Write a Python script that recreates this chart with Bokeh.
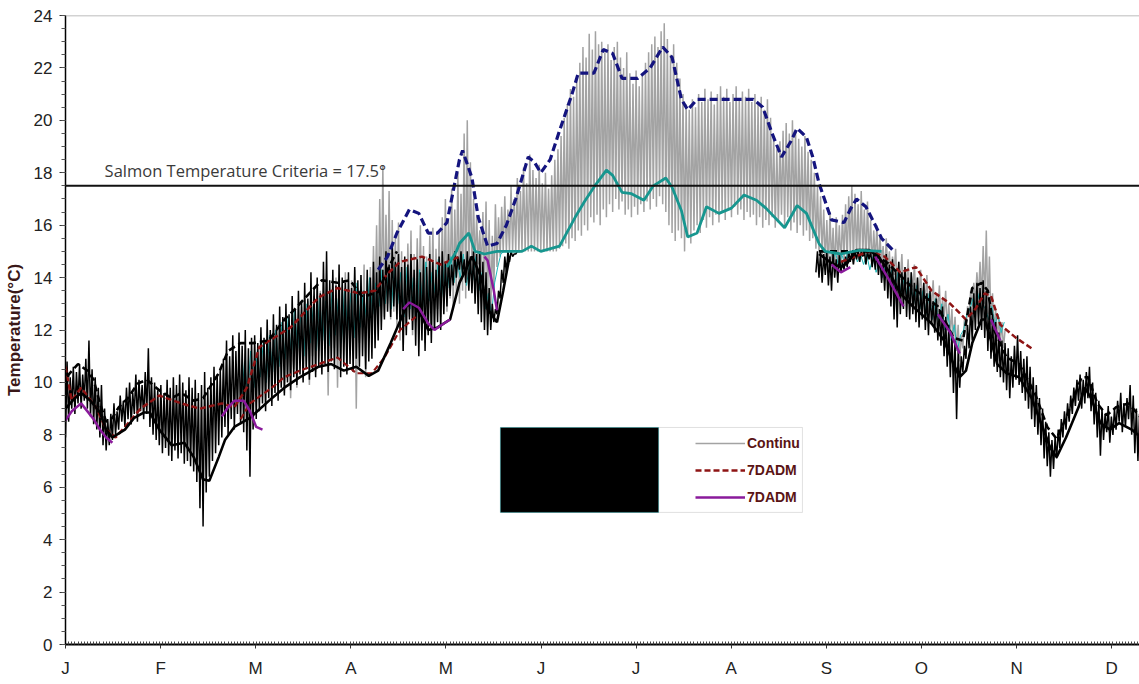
import numpy as np
from bokeh.plotting import figure
from bokeh.models import (Range1d, FixedTicker, SingleIntervalTicker, CustomJSTickFormatter,
                          Span, Label, BoxAnnotation, Legend, LegendItem)
from bokeh.embed import file_html
from bokeh.resources import INLINE

# ---------------- data ----------------
MONTHS = ["J", "F", "M", "A", "M", "J", "J", "A", "S", "O", "N", "D"]
MONTH_LEN = 365 / 12
CRITERIA = 17.5
CRITERIA_TEXT = "Salmon Temperature Criteria = 17.5\u00b0"
Y_TITLE = "Temperature(\u00b0C)"
LEGEND_LABELS = ["Continu", "7DADM", "7DADM"]

# continuous (grey) hourly record: daily highs / lows, first day = GREY_START
GREY_START = 70
GREY_HI = [11.8, 12.3, 11.5, 12.6, 12.0, 12.9, 12.2, 13.1, 12.4, 13.3,
           12.7, 13.5, 12.9, 13.8, 13.0, 13.4, 14.0, 13.2, 13.7, 14.2,
           13.5, 13.9, 14.3, 13.6, 14.1, 14.5, 13.9, 14.4, 15.2, 16.0,
           17.0, 18.3, 16.4, 17.3, 16.2, 15.6, 16.1, 15.0, 14.6, 15.3,
           15.8, 14.9, 15.5, 16.0, 15.2, 14.8, 15.6, 15.9, 15.1, 15.7,
           16.3, 17.0, 16.2, 17.4, 16.6, 18.0, 17.2, 19.5, 20.0, 18.4,
           17.0, 16.4, 15.8, 16.5, 16.9, 16.2, 15.6, 16.8, 16.3, 16.7,
           17.1, 16.6, 17.5, 17.0, 17.8, 17.3, 18.2, 17.6, 18.7, 18.1,
           17.8, 18.3, 17.6, 18.0, 17.4, 17.9, 18.5, 18.9, 19.4, 20.1,
           20.6, 21.2, 20.9, 21.7, 22.2, 22.8, 22.4, 23.3, 22.7, 23.4,
           22.9, 23.0, 22.6, 22.9, 22.3, 22.8, 23.0, 22.4, 22.0, 22.6,
           21.8, 21.4, 21.9, 21.3, 21.7, 22.2, 22.6, 22.9, 23.2, 22.8,
           23.4, 23.7, 23.1, 22.5, 22.9, 22.2, 21.6, 21.0, 20.6, 20.4,
           20.8, 20.5, 21.0, 20.7, 21.2, 20.8, 21.1, 20.6, 21.0, 21.3,
           20.9, 21.2, 20.7, 21.0, 21.3, 20.8, 21.1, 20.9, 21.2, 20.7,
           21.0, 20.6, 20.9, 20.4, 20.8, 20.1, 19.4, 18.9, 19.2, 19.6,
           19.9, 19.5, 20.0, 19.6, 19.3, 19.0, 19.4, 18.8, 18.5, 18.0,
           17.5, 17.1, 16.6, 16.2, 16.5, 15.9, 16.3, 16.0, 16.4, 16.8,
           17.1, 17.5, 17.2, 16.8, 17.3, 16.6, 16.9, 16.2, 15.8, 16.0,
           15.6, 15.2, 15.5, 15.0, 14.8, 15.1, 14.6, 14.9, 14.4, 14.7,
           14.2, 14.5, 14.0, 14.3, 13.8, 14.1, 13.6, 13.9, 13.4, 13.7,
           13.2, 13.5, 13.0, 12.8, 12.5, 12.2, 11.8, 12.4, 12.9, 13.5,
           13.8, 14.2, 14.6, 15.2, 15.8, 14.8, 13.4, 12.8, 12.5, 12.3,
           12.0]
GREY_LO = [9.6, 10.2, 9.4, 10.5, 9.8, 10.8, 10.1, 10.6, 9.9, 11.0,
           10.4, 11.2, 10.7, 11.4, 9.5, 10.9, 11.3, 9.8, 11.1, 11.6,
           10.5, 11.2, 11.8, 9.0, 11.5, 12.0, 10.2, 11.7, 12.3, 12.6,
           12.2, 12.8, 12.5, 13.0, 12.4, 12.7, 12.1, 11.6, 11.2, 12.0,
           12.5, 11.8, 12.3, 12.7, 12.0, 11.5, 12.2, 12.6, 12.1, 12.8,
           12.5, 13.0, 12.7, 13.2, 12.9, 13.4, 13.0, 13.5, 13.2, 13.8,
           14.0, 14.3, 14.5, 14.2, 13.6, 13.0, 12.6, 13.5, 14.4, 14.8,
           15.0, 15.0, 15.0, 15.0, 15.0, 15.0, 15.0, 15.0, 15.0, 15.0,
           15.0, 15.0, 15.0, 15.0, 15.0, 15.0, 15.0, 15.0, 15.1, 15.2,
           15.3, 15.1, 15.5, 15.4, 15.8, 15.6, 16.0, 15.8, 16.3, 16.1,
           16.4, 16.0, 16.6, 16.3, 16.8, 16.5, 17.0, 16.6, 16.9, 16.4,
           16.6, 16.3, 16.7, 16.4, 16.8, 16.5, 16.9, 16.6, 17.0, 16.7,
           17.1, 16.8, 16.5, 16.0, 15.7, 15.4, 15.8, 15.5, 15.0, 15.6,
           15.3, 15.8, 16.0, 15.7, 16.2, 15.9, 16.3, 16.0, 16.4, 16.1,
           16.5, 16.2, 16.6, 16.3, 16.7, 16.4, 16.6, 16.2, 16.5, 16.3,
           16.4, 16.0, 16.3, 15.9, 16.2, 16.0, 16.3, 15.9, 16.1, 16.4,
           16.0, 16.3, 15.8, 16.1, 15.7, 16.0, 15.6, 15.8, 15.4, 15.5,
           15.1, 15.0, 14.8, 14.6, 14.3, 14.5, 14.2, 14.6, 14.4, 14.7,
           14.6, 14.9, 14.5, 14.8, 14.6, 14.9, 14.5, 14.7, 14.4, 14.6,
           14.3, 14.5, 14.1, 14.3, 13.9, 14.1, 13.7, 13.9, 13.5, 13.7,
           13.3, 13.5, 13.1, 13.3, 12.9, 13.1, 12.7, 12.9, 12.5, 12.7,
           12.3, 12.5, 12.0, 11.8, 11.5, 11.2, 10.8, 11.3, 12.0, 12.6,
           12.9, 13.0, 13.2, 13.1, 13.0, 12.6, 12.2, 11.9, 11.6, 11.5,
           11.3]

# second station continuous record (black): daily highs / lows
BLACK1_START = 0
BLACK1_HI = [10.8, 10.2, 10.6, 10.4, 10.7, 10.3, 10.9, 11.6, 10.5, 10.2,
             9.8, 9.9, 9.0, 8.6, 8.8, 9.2, 8.9, 9.5, 9.3, 9.8,
             10.0, 9.6, 10.3, 10.1, 9.9, 10.4, 11.3, 10.2, 10.0, 9.7,
             9.9, 9.6, 10.1, 9.8, 10.2, 9.9, 10.3, 10.0, 9.7, 10.2,
             9.8, 10.1, 9.6, 9.9, 10.4, 9.8, 10.2, 10.6, 10.3, 10.5,
             10.9, 11.6, 11.0, 11.8, 11.2, 11.9, 11.4, 12.0, 11.3, 11.7,
             11.8, 11.5, 12.1, 11.7, 12.4, 12.0, 12.6, 12.2, 12.9, 12.5,
             13.0, 12.6, 13.3, 12.8, 13.5, 13.1, 13.8, 13.2, 14.2, 13.6,
             14.0, 13.4, 14.6, 15.0, 13.9, 14.3, 13.7, 14.5, 14.0, 13.8,
             14.2, 13.6, 14.4, 13.9, 14.1, 13.5, 14.3, 14.0, 14.6, 14.2,
             14.8, 14.3, 15.0, 14.5, 15.2, 14.6, 14.9, 14.4, 14.8, 14.5,
             14.9, 14.3, 14.7, 14.2, 14.8, 14.4, 14.9, 14.6, 14.3, 14.8,
             15.0, 14.6, 14.9, 14.5, 15.0, 14.8, 15.0, 14.7, 15.0, 14.8,
             15.0, 14.9, 15.0, 14.6, 14.2, 13.6, 13.0, 12.8, 13.5, 14.3,
             14.8, 15.0, 15.0, 14.9, 15.0, 15.0]
BLACK1_LO = [7.9, 8.5, 9.0, 8.8, 9.2, 9.0, 9.3, 9.0, 8.7, 8.4,
             8.2, 7.9, 7.6, 7.4, 7.6, 7.8, 8.0, 8.2, 8.5, 8.3,
             8.6, 8.4, 8.8, 8.5, 8.9, 8.6, 8.8, 8.3, 8.0, 7.8,
             7.6, 7.3, 7.5, 7.2, 7.0, 7.4, 7.1, 7.3, 6.9, 7.0,
             6.8, 6.6, 6.2, 5.2, 4.5, 5.8, 6.4, 7.0, 7.3, 7.6,
             7.9, 8.3, 8.0, 8.6, 8.2, 8.8, 8.4, 8.1, 7.4, 6.4,
             8.2, 8.6, 8.9, 9.2, 8.9, 9.4, 9.1, 9.6, 9.3, 9.8,
             9.5, 10.0, 9.7, 10.2, 9.9, 10.3, 10.0, 10.5, 10.1, 10.4,
             10.2, 10.6, 10.3, 10.7, 10.4, 10.8, 10.5, 10.9, 10.2, 10.6,
             10.3, 10.7, 10.4, 10.9, 10.6, 11.0, 10.5, 10.8, 10.9, 11.3,
             11.6, 12.0, 12.4, 12.7, 12.5, 12.9, 12.4, 12.0, 11.2, 11.8,
             12.4, 12.0, 11.4, 11.0, 11.6, 11.2, 11.8, 11.5, 12.0, 12.3,
             12.0, 12.6, 12.9, 13.3, 13.7, 14.0, 14.3, 14.1, 13.8, 13.5,
             13.4, 13.0, 12.6, 12.3, 12.0, 11.8, 12.0, 12.3, 12.6, 13.2,
             13.8, 14.2, 14.6, 14.8, 14.9, 15.0]
BLACK2_START = 240
BLACK2_HI = [15.0, 15.0, 14.9, 15.0, 14.8, 15.0, 14.7, 14.9, 14.6, 14.8,
             15.0, 15.0, 15.0, 15.0, 15.0, 15.0, 15.0, 15.0, 14.9, 15.0,
             14.8, 14.6, 14.9, 14.5, 14.7, 14.3, 14.6, 14.2, 14.4, 14.0,
             14.2, 13.8, 14.0, 13.6, 13.8, 13.4, 13.5, 13.1, 13.2, 12.8,
             12.9, 12.5, 12.2, 11.9, 11.6, 11.2, 11.0, 11.4, 12.2, 12.9,
             13.4, 13.8, 13.6, 13.9, 13.5, 13.0, 12.6, 12.3, 11.9, 11.6,
             11.5, 11.3, 11.0, 11.4, 11.8, 11.2, 10.9, 11.0, 10.6, 10.2,
             9.9, 9.4, 9.0, 8.5, 8.1, 7.8, 7.9, 8.2, 8.6, 8.9,
             9.2, 9.5, 9.8, 10.1, 10.3, 10.1, 10.4, 10.6, 10.0, 9.6,
             9.3, 9.0, 8.8, 9.1, 8.7, 9.0, 9.3, 9.6, 9.2, 9.4,
             9.9, 9.5, 9.0, 8.8]
BLACK2_LO = [14.2, 14.0, 13.8, 14.1, 13.7, 13.5, 14.0, 13.8, 14.2, 14.3,
             14.4, 14.6, 14.5, 14.7, 14.6, 14.8, 14.5, 14.7, 14.4, 14.3,
             14.1, 13.8, 13.5, 13.2, 12.9, 12.4, 12.1, 12.6, 12.8, 12.5,
             12.4, 12.6, 12.3, 12.1, 12.4, 12.0, 11.8, 12.2, 11.9, 11.6,
             11.4, 11.0, 10.6, 10.2, 9.6, 8.6, 9.8, 10.4, 10.9, 11.3,
             11.6, 12.0, 12.2, 12.0, 11.7, 11.2, 10.9, 10.6, 10.4, 10.2,
             10.0, 9.7, 9.4, 9.8, 10.1, 9.9, 9.6, 9.3, 9.0, 8.6,
             8.3, 8.0, 7.6, 7.1, 6.8, 6.4, 6.7, 7.1, 7.5, 7.9,
             8.2, 8.5, 8.8, 9.1, 9.3, 9.0, 9.2, 9.4, 8.9, 8.4,
             7.9, 7.2, 7.8, 8.1, 7.7, 8.0, 8.2, 8.5, 8.1, 8.3,
             8.6, 8.0, 7.3, 7.0]

# thin cyan record (one reading per day)
CYAN1_START = 56
CYAN1 = [9.2, 10.8, 9.6, 11.2, 9.8, 11.0, 10.2, 11.5, 10.0, 11.8,
         10.4, 12.0, 10.6, 12.3, 10.9, 12.5, 11.0, 12.8, 11.3, 12.6,
         11.0, 13.0, 11.5, 12.9, 11.2, 13.3, 11.6, 13.1, 11.4, 13.5,
         11.8, 13.2, 11.5, 13.6, 12.0, 13.4, 11.7, 13.8, 12.1, 13.5,
         12.4, 14.0, 12.6, 13.8, 12.9, 14.3, 13.0, 14.1, 12.8, 14.5,
         13.0, 14.2, 12.5, 14.4, 12.8, 14.0, 12.4, 14.3, 12.9, 14.6,
         13.1, 14.2, 13.4, 14.7, 13.2, 14.5, 13.6, 14.8, 13.8, 14.6,
         14.0, 14.9, 13.7, 14.5, 13.9, 14.8, 13.5, 14.2, 12.8, 13.4,
         12.6, 13.8, 14.4, 14.9, 15.0]
CYAN2_START = 245
CYAN2 = [14.6, 15.0, 14.4, 14.9, 14.5, 15.0, 14.7, 15.0, 14.6, 14.9,
         14.5, 14.9, 14.3, 14.8, 14.2, 14.6, 14.0, 14.5, 13.8, 14.3,
         13.6, 14.2, 13.4, 14.0, 13.2, 13.9, 13.0, 13.7, 12.8, 13.5,
         12.6, 13.4, 12.4, 13.2, 12.2, 13.0, 12.0, 12.6, 11.6, 12.2,
         11.2, 11.8, 12.0, 12.6, 12.8, 13.2, 12.9, 13.4, 13.0, 12.8,
         12.4, 12.9, 12.2, 12.6, 11.9, 12.3]

# 7DADM (navy dashed) and daily mean (teal) of the continuous record
NAVY_DAYS = [100, 103, 106, 110, 113, 116, 119, 122, 126, 127,
             130, 132, 135, 138, 141, 144, 148, 150, 152, 155,
             158, 162, 164, 169, 172, 175, 178, 183, 187, 191,
             194, 197, 199, 202, 208, 214, 220, 223, 226, 229,
             232, 234, 237, 239, 241, 245, 249, 251, 253, 256,
             259, 261, 265]
NAVY_VALS = [14.3, 14.8, 15.7, 16.6, 16.45, 15.7, 15.7, 16.1, 18.5, 18.85,
             17.8, 16.3, 15.2, 15.3, 16.0, 17.0, 18.6, 18.4, 18.0, 18.5,
             19.6, 21.0, 21.8, 21.8, 22.7, 22.55, 21.6, 21.6, 22.0, 22.8,
             22.4, 20.8, 20.4, 20.8, 20.8, 20.8, 20.8, 20.5, 19.5, 18.6,
             19.2, 19.7, 19.35, 18.6, 17.6, 16.2, 16.1, 16.6, 17.0, 16.7,
             16.0, 15.5, 15.0]
TEAL_DAYS = [122, 125, 126, 129, 131, 134, 138, 142, 146, 149,
             152, 158, 163, 166, 169, 173, 175, 178, 181, 185,
             188, 192, 194, 197, 199, 202, 205, 209, 213, 217,
             221, 224, 230, 234, 237, 241, 243, 248, 254, 261]
TEAL_VALS = [14.4, 15.0, 15.3, 15.7, 15.0, 14.9, 15.0, 15.0, 15.0, 15.2,
             15.0, 15.2, 16.3, 16.9, 17.45, 18.1, 17.9, 17.25, 17.2, 16.95,
             17.5, 17.8, 17.45, 16.55, 15.55, 15.7, 16.7, 16.45, 16.65, 17.15,
             16.95, 16.65, 15.9, 16.75, 16.45, 15.3, 15.0, 14.9, 15.05, 15.0]

# second station: daily mean (black solid) and 7DADM (black dashed)
BSOLID_DAYS = [0, 3, 5, 8, 11, 13, 15, 19, 22, 25,
               27, 30, 34, 38, 41, 44, 46, 49, 51, 54,
               59, 66, 70, 75, 81, 85, 89, 93, 97, 100,
               104, 109, 111, 114, 116, 119, 123, 126, 130, 133,
               135, 138, 140, 142, None,
               241, 245, 248, 250, 253, 257, 260, 263, 267, 271,
               277, 281, 284, 286, 288, 290, 293, 294, 296, 298,
               301, 305, 309, 312, 315, 317, 320, 324, 326, 328,
               331, 334, 337, 341, 344]
BSOLID_VALS = [9.0, 9.4, 9.6, 9.3, 8.85, 8.2, 7.9, 8.2, 8.65, 8.85,
               8.85, 8.2, 7.6, 7.7, 7.15, 6.3, 6.25, 7.15, 7.8, 8.3,
               8.65, 9.4, 9.8, 10.2, 10.6, 10.7, 10.45, 10.6, 10.25, 10.45,
               11.5, 12.9, 13.05, 12.5, 12.0, 12.1, 12.4, 13.8, 14.8, 14.0,
               12.8, 12.3, 13.5, 14.8, None,
               14.9, 14.55, 14.4, 14.55, 15.05, 15.05, 14.8, 14.3, 13.4, 12.9,
               12.25, 11.6, 10.7, 10.2, 10.45, 11.5, 12.4, 12.4, 11.6, 10.7,
               10.35, 10.2, 9.4, 8.45, 7.5, 7.15, 7.9, 9.05, 9.8, 9.4,
               8.45, 8.2, 8.45, 8.2, 7.9]
BDASH_DAYS = [0, 1, 4, 7, 9, 11, 13, 15, 17, 20,
              23, 26, 30, 34, 37, 41, 44, 49, 52, 56,
              60, 65, 70, 73, 78, 82, 87, 91, 95, 100,
              103, 106, None,
              241, 251, 257, 263, 271, 279, 284, 287, 290, 293,
              295, 297, 301, 305, 310, 314, 317, 320, 325, 327,
              330, 333, 336, 340, 344]
BDASH_VALS = [9.8, 10.3, 10.7, 10.45, 10.1, 9.2, 8.5, 8.65, 9.05, 9.4,
              9.95, 10.1, 9.7, 9.4, 9.6, 9.3, 9.4, 10.35, 11.2, 11.5,
              11.5, 11.6, 12.4, 12.75, 13.4, 13.9, 13.8, 13.9, 13.25, 13.45,
              14.3, 15.0, None,
              15.0, 15.0, 15.0, 14.55, 13.6, 12.9, 11.7, 11.6, 13.6, 13.8,
              13.5, 12.0, 10.95, 10.7, 9.6, 8.3, 7.85, 8.65, 10.2, 10.2,
              9.2, 8.75, 9.05, 9.2, 8.65]

# 7DADM dark red dashed (upper and lower) and purple
RED_DAYS = [0, 2, 5, 10, 13, 16, 19, 24, 30, 37,
            43, 50, 54, 58, 62, 72, 81, 87, 94, 99,
            103, 107, 114, 120, 126, None,
            248, 257, 262, 267, 272, 277, 283, 288, 291, 294,
            296, 299, 304, 309]
RED_VALS = [10.6, 9.3, 9.8, 9.0, 8.2, 7.9, 8.3, 9.0, 9.5, 9.2,
            9.0, 9.2, 9.05, 9.8, 11.35, 12.1, 13.25, 13.6, 13.4, 13.5,
            14.15, 14.6, 14.8, 14.5, 14.8, None,
            14.6, 15.0, 14.8, 14.2, 14.4, 13.5, 13.0, 12.4, 12.8, 13.4,
            13.3, 12.2, 11.7, 11.3]
RED_LO_DAYS = [56, 59, 66, 70, 75, 81, 87, 93, 98, 102, 107, 112]
RED_LO_VALS = [8.6, 9.2, 9.8, 10.2, 10.45, 10.7, 10.95, 10.35, 10.35, 10.95, 12.0, 12.5]
PURPLE_DAYS = [0, 2, 5, 9, 11, 13, 15, None,
               50, 52, 54, 57, 59, 61, 63, None,
               108, 110, 113, 116, 118, 121, 123, None,
               134, 135, 137, 138, None,
               245, 248, 251, None,
               259, 263, 268, None,
               279, 283, 286, None,
               296, 299]
PURPLE_VALS = [8.55, 8.9, 9.2, 8.6, 8.2, 7.9, 7.7, None,
               8.7, 9.05, 9.3, 9.3, 8.9, 8.3, 8.2, None,
               12.8, 13.05, 12.85, 12.25, 12.0, 12.25, 12.4, None,
               14.8, 14.65, 13.5, 12.75, None,
               14.5, 14.2, 14.4, None,
               14.8, 14.0, 12.9, None,
               12.6, 11.9, 11.1, None,
               12.4, 11.6]


def nan_list(vals):
    return [np.nan if v is None else v for v in vals]


def hilo_path(start, hi, lo):
    xs, ys = [], []
    for i, (h, l) in enumerate(zip(hi, lo)):
        xs += [start + i, start + i + 0.5]
        ys += [l, h]
    return xs, ys


def daily_path(start, vals, offset=0.25):
    return [start + i + offset for i in range(len(vals))], list(vals)


# ---------------- figure ----------------
p = figure(width=1139, height=684, output_backend="svg", toolbar_location=None,
           x_range=Range1d(0, 343.5), y_range=Range1d(0, 24),
           min_border_left=65, min_border_right=0, min_border_top=15, min_border_bottom=40)
p.outline_line_color = None
p.xgrid.visible = False
p.ygrid.visible = False
p.background_fill_color = "white"

TICK_FONT = "Liberation Sans"

# x axis
p.xaxis.ticker = FixedTicker(ticks=[k * MONTH_LEN for k in range(12)],
                             minor_ticks=list(range(0, 344)))
p.xaxis.formatter = CustomJSTickFormatter(
    args=dict(labels=MONTHS, mlen=MONTH_LEN),
    code="const i = Math.round(tick / mlen); return (i >= 0 && i < labels.length) ? labels[i] : '';")
p.xaxis.axis_line_width = 2
p.xaxis.axis_line_color = "black"
p.xaxis.major_tick_in = 0
p.xaxis.major_tick_out = 4
p.xaxis.major_tick_line_color = "#333333"
p.xaxis.minor_tick_in = 3
p.xaxis.minor_tick_out = 0
p.xaxis.minor_tick_line_color = "#444444"
p.xaxis.major_label_standoff = 10
p.xaxis.major_label_text_font = TICK_FONT
p.xaxis.major_label_text_font_size = "17px"
p.xaxis.major_label_text_color = "#222222"

# y axis
p.yaxis.ticker = SingleIntervalTicker(interval=2, num_minor_ticks=4)
p.yaxis.axis_line_width = 1.5
p.yaxis.axis_line_color = "black"
p.yaxis.major_tick_in = 0
p.yaxis.major_tick_out = 6
p.yaxis.minor_tick_in = 0
p.yaxis.minor_tick_out = 4
p.yaxis.major_tick_line_color = "#333333"
p.yaxis.minor_tick_line_color = "#555555"
p.yaxis.major_label_standoff = 7
p.yaxis.major_label_text_font = TICK_FONT
p.yaxis.major_label_text_font_size = "17px"
p.yaxis.major_label_text_color = "#222222"
p.yaxis.axis_label = Y_TITLE
p.yaxis.axis_label_text_font = TICK_FONT
p.yaxis.axis_label_text_font_style = "bold"
p.yaxis.axis_label_text_font_size = "17px"
p.yaxis.axis_label_text_color = "#3a1818"
p.yaxis.axis_label_standoff = 7

# frame top border
p.add_layout(Span(location=24, dimension="width", line_color="#a6a6a6", line_width=1.5))

# ---------------- series ----------------
gx, gy = hilo_path(GREY_START, GREY_HI, GREY_LO)
grey_r = p.line(gx, gy, line_color="#a3a3a3", line_width=1.5)

cx1, cy1 = daily_path(CYAN1_START, CYAN1)
p.line(cx1, cy1, line_color="#1fb8b8", line_width=1)
cx2, cy2 = daily_path(CYAN2_START, CYAN2)
p.line(cx2, cy2, line_color="#1fb8b8", line_width=1)

bx1, by1 = hilo_path(BLACK1_START, BLACK1_HI, BLACK1_LO)
p.line(bx1, by1, line_color="black", line_width=1.5)
bx2, by2 = hilo_path(BLACK2_START, BLACK2_HI, BLACK2_LO)
p.line(bx2, by2, line_color="black", line_width=1.5)

red_r = p.line(RED_DAYS, nan_list(RED_VALS), line_color="#8e1414", line_width=2.5, line_dash="6 3")
p.line(RED_LO_DAYS, RED_LO_VALS, line_color="#8e1414", line_width=2.2, line_dash="6 3")

p.line(BDASH_DAYS, nan_list(BDASH_VALS), line_color="black", line_width=2.6, line_dash="7 4")
p.line(BSOLID_DAYS, nan_list(BSOLID_VALS), line_color="black", line_width=2.6)

purple_r = p.line(PURPLE_DAYS, nan_list(PURPLE_VALS), line_color="#8a1a9b", line_width=2.5)

p.line(TEAL_DAYS, TEAL_VALS, line_color="#17968f", line_width=2.8)
p.line(NAVY_DAYS, NAVY_VALS, line_color="#14147e", line_width=3.2, line_dash="8 4")

# criteria line and its text
p.add_layout(Span(location=CRITERIA, dimension="width", line_color="#111111", line_width=2))
p.add_layout(Label(x=12.5, y=CRITERIA, y_offset=4, text=CRITERIA_TEXT,
                   text_font="Open Sans", text_font_size="16.5px", text_color="#3a3a3a",
                   text_baseline="bottom", text_align="left"))

# ---------------- legend (partially hidden box as in the source) ----------------
p.add_layout(BoxAnnotation(left=139.1, right=235.7, bottom=5.04, top=8.28,
                           fill_color="white", fill_alpha=1,
                           line_color="#9a9a9a", line_width=1))
p.add_layout(BoxAnnotation(left=139.1, right=189.7, bottom=5.04, top=8.28,
                           fill_color="black", fill_alpha=1,
                           line_color="#00c0c8", line_width=1))
legend = Legend(items=[LegendItem(label=LEGEND_LABELS[0], renderers=[grey_r]),
                       LegendItem(label=LEGEND_LABELS[1], renderers=[red_r]),
                       LegendItem(label=LEGEND_LABELS[2], renderers=[purple_r])],
                location=(630, 137), padding=0, margin=0, spacing=7,
                glyph_width=50, glyph_height=20, label_height=20, label_standoff=2,
                background_fill_alpha=0, border_line_color=None,
                label_text_font=TICK_FONT, label_text_font_size="14px",
                label_text_font_style="bold", label_text_color="#5a1414")
p.add_layout(legend)

open("out.html", "w").write(file_html(p, INLINE))
